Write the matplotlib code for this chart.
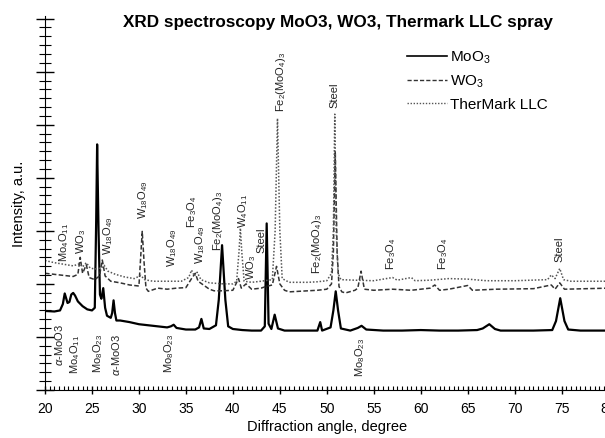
import matplotlib
matplotlib.use('Agg')
import matplotlib.pyplot as plt
from matplotlib.ticker import MultipleLocator, AutoMinorLocator
from matplotlib.lines import Line2D

plt.rcParams['font.family'] = ['Liberation Sans', 'DejaVu Sans']
plt.rcParams['mathtext.fontset'] = 'custom'
plt.rcParams['mathtext.rm'] = 'Liberation Sans'
plt.rcParams['mathtext.it'] = 'Liberation Sans:italic'
plt.rcParams['mathtext.bf'] = 'Liberation Sans:bold'

# MoO3 pattern (solid)
moo3_x = [20, 21, 21.6, 21.9, 22.1, 22.4, 22.6, 22.8, 23.0, 23.2, 23.5, 24.0, 24.5,
          25.0, 25.3, 25.45, 25.55, 25.7, 25.85, 26.0, 26.2, 26.4, 26.6, 27.0, 27.15,
          27.3, 27.45, 27.6, 28, 29, 30, 31, 32, 33, 33.4, 33.7, 34.0, 35, 36, 36.4,
          36.65, 36.9, 37.5, 38.2, 38.5, 38.85, 39.2, 39.5, 40, 41, 42, 43, 43.4,
          43.6, 43.8, 44.1, 44.45, 44.8, 45.5, 47, 49, 49.3, 49.5, 50.4, 50.7, 50.95,
          51.2, 51.5, 52.5, 53.3, 53.7, 54.2, 56, 58, 60, 62, 64, 66, 66.6, 67.3,
          67.9, 68.5, 70, 72, 74, 74.4, 74.85, 75.3, 75.7, 77, 80]
moo3_y = [1.49, 1.48, 1.50, 1.62, 1.82, 1.64, 1.66, 1.80, 1.83, 1.78, 1.67, 1.58, 1.52,
          1.50, 1.55, 3.2, 4.63, 3.0, 1.8, 1.72, 1.92, 1.55, 1.40, 1.36, 1.45,
          1.69, 1.45, 1.31, 1.31, 1.28, 1.24, 1.22, 1.20, 1.18, 1.20, 1.23, 1.17, 1.14, 1.14, 1.18,
          1.34, 1.16, 1.15, 1.22, 1.7, 2.73, 1.7, 1.2, 1.15, 1.13, 1.12, 1.12, 1.2,
          3.14, 1.25, 1.15, 1.42, 1.16, 1.12, 1.12, 1.12, 1.28, 1.12, 1.18, 1.5, 1.86,
          1.5, 1.16, 1.12, 1.17, 1.21, 1.14, 1.12, 1.12, 1.13, 1.12, 1.12, 1.13, 1.16, 1.24,
          1.15, 1.12, 1.12, 1.12, 1.13, 1.30, 1.73, 1.30, 1.14, 1.12, 1.12]

# WO3 pattern (dashed)
wo3_x = [20, 21, 22, 23, 23.5, 23.75, 24.0, 24.4, 24.7, 25, 25.3, 25.8, 26.1, 26.4,
         27, 28, 29, 30, 30.15, 30.35, 30.55, 30.75, 31, 32, 33, 34, 35, 35.6, 36.0,
         36.3, 36.7, 37.5, 38, 39, 40, 40.6, 40.9, 41.4, 42, 43, 43.5, 44.2, 44.65,
         45.0, 45.5, 46, 47, 48, 49, 50, 50.5, 50.7, 50.9, 51.1, 51.3, 51.6, 52, 53,
         53.3, 53.65, 54.0, 55, 57, 59, 61, 61.5, 62, 63, 65, 65.5, 68, 72, 73.9,
         74.3, 74.8, 75.3, 80]
wo3_y = [2.20, 2.18, 2.16, 2.14, 2.18, 2.50, 2.20, 2.36, 2.12, 2.10, 2.08, 2.15, 2.45, 2.15,
         2.05, 2.02, 1.98, 1.96, 2.40, 2.99, 2.40, 1.92, 1.86, 1.92, 1.90, 1.92, 1.93, 2.10, 2.20,
         2.05, 2.00, 1.90, 1.87, 1.87, 1.88, 2.10, 1.92, 2.00, 1.90, 1.92, 1.95, 1.98, 2.33,
         2.00, 1.88, 1.85, 1.86, 1.87, 1.88, 1.90, 2.00, 2.60, 4.50, 2.60, 1.95, 1.85, 1.83, 1.88,
         1.92, 2.24, 1.90, 1.88, 1.90, 1.88, 1.92, 1.98, 1.88, 1.90, 1.97, 1.88, 1.90, 1.91, 1.98,
         1.90, 2.02, 1.90, 1.92]

# TherMark LLC pattern (dotted)
thm_x = [20, 21, 22, 23, 23.7, 24, 24.4, 24.8, 25.3, 26, 26.3, 26.7, 27.5, 28.5, 29.5,
         30.2, 30.6, 31.5, 33, 34.5, 35.3, 35.6, 35.9, 36.2, 36.6, 37.5, 39, 40, 40.4,
         40.65, 40.8, 40.95, 41.2, 42, 43, 44.2, 44.5, 44.75, 45.0, 45.25, 46, 47, 48,
         49, 50, 50.5, 50.7, 50.85, 51.0, 51.2, 51.5, 53, 55, 57, 57.5, 59, 59.4, 61,
         63, 65, 67, 70, 73.5, 73.9, 74.3, 74.8, 75.2, 76, 80]
thm_y = [2.44, 2.40, 2.37, 2.34, 2.38, 2.32, 2.40, 2.30, 2.28, 2.30, 2.35, 2.24, 2.18, 2.13, 2.10,
         2.16, 2.08, 2.05, 2.05, 2.05, 2.12, 2.26, 2.15, 2.22, 2.08, 2.02, 2.00, 2.00, 2.05,
         2.60, 3.05, 2.60, 2.05, 2.03, 2.05, 2.08, 3.00, 5.12, 3.00, 2.10, 2.03, 2.03, 2.03,
         2.04, 2.06, 2.20, 3.00, 5.20, 3.00, 2.20, 2.08, 2.07, 2.06, 2.12, 2.07, 2.12, 2.06, 2.07,
         2.10, 2.09, 2.06, 2.06, 2.08, 2.17, 2.10, 2.29, 2.08, 2.05, 2.05]

# phase labels above the curves: (text, x, y of text start)
labels_above = [
    (r'Mo$_4$O$_{11}$', 22.0, 2.44),
    (r'WO$_3$', 23.85, 2.59),
    (r'W$_{18}$O$_{49}$', 26.7, 2.56),
    (r'W$_{18}$O$_{49}$', 30.45, 3.25),
    (r'W$_{18}$O$_{49}$', 33.5, 2.33),
    (r'Fe$_3$O$_4$', 35.65, 3.08),
    (r'W$_{18}$O$_{49}$', 36.5, 2.39),
    (r'Fe$_2$(MoO$_4$)$_3$', 38.4, 2.63),
    (r'W$_4$O$_{11}$', 41.1, 3.08),
    (r'WO$_3$', 41.95, 2.10),
    ('Steel', 43.0, 2.61),
    (r'Fe$_2$(MoO$_4$)$_3$', 45.1, 5.25),
    ('Steel', 50.87, 5.33),
    (r'Fe$_2$(MoO$_4$)$_3$', 48.95, 2.20),
    (r'Fe$_3$O$_4$', 56.85, 2.29),
    (r'Fe$_3$O$_4$', 62.4, 2.29),
    ('Steel', 74.8, 2.44),
]
# phase labels below the MoO3 curve: (text, x, y of text top)
labels_below = [
    (r'$\alpha$-MoO3', 21.5, 1.27),
    (r'Mo$_4$O$_{11}$', 23.2, 1.07),
    (r'Mo$_8$O$_{23}$', 25.65, 1.07),
    (r'$\alpha$-MoO3', 27.55, 1.07),
    (r'Mo$_8$O$_{23}$', 33.2, 1.07),
    (r'Mo$_8$O$_{23}$', 53.55, 1.01),
]

fig = plt.figure(figsize=(6.05, 4.39), dpi=100)
ax = fig.add_axes([45 / 605, 48 / 439, 563.6 / 605, 374 / 439])

ax.plot(moo3_x, moo3_y, color='black', linewidth=1.6)
ax.plot(wo3_x, wo3_y, color='#333333', linewidth=1.1, dashes=(3, 1.5))
ax.plot(thm_x, thm_y, color='#555555', linewidth=1.1, dashes=(1, 1.2))

for txt, x, y in labels_above:
    ax.text(x, y, txt, rotation=90, ha='center', va='bottom', fontsize=8, color='#222222')
for txt, x, y in labels_below:
    ax.text(x, y, txt, rotation=90, ha='center', va='top', fontsize=8, color='#222222')

ax.set_xlim(20, 80)
ax.set_ylim(0, 7.05)
ax.spines['top'].set_visible(False)
ax.spines['right'].set_visible(False)
ax.xaxis.set_major_locator(MultipleLocator(5))
ax.xaxis.set_minor_locator(MultipleLocator(0.5))
ax.yaxis.set_major_locator(MultipleLocator(1))
ax.yaxis.set_minor_locator(AutoMinorLocator(6))
ax.tick_params(axis='x', which='major', direction='inout', length=6, width=1, labelsize=10, pad=5)
ax.tick_params(axis='x', which='minor', direction='in', length=3, width=0.8)
ax.tick_params(axis='y', which='major', direction='inout', length=13, width=1, labelleft=False)
ax.tick_params(axis='y', which='minor', direction='inout', length=8, width=0.8)
ax.set_xlabel('Diffraction angle, degree', fontsize=10.5, labelpad=3)
ax.set_ylabel('Intensity, a.u.', fontsize=10.5)
ax.yaxis.set_label_coords(-0.033, 0.5)

fig.text(338 / 605, 1 - 22 / 439, 'XRD spectroscopy MoO3, WO3, Thermark LLC spray',
         ha='center', va='center', fontsize=12.3, fontweight='bold')

handles = [Line2D([], [], color='black', linewidth=1.2),
           Line2D([], [], color='#333333', linewidth=1.0, dashes=(3, 1.5)),
           Line2D([], [], color='#555555', linewidth=1.0, dashes=(1, 1.2))]
ax.legend(handles, [r'MoO$_3$', r'WO$_3$', 'TherMark LLC'], loc='upper left',
          bbox_to_anchor=(407 / 605, 1 - 50 / 439), bbox_transform=fig.transFigure,
          frameon=False, fontsize=11, handlelength=2.6, handletextpad=0.2,
          labelspacing=0.5, borderpad=0, borderaxespad=0)

fig.savefig('out.png', dpi=100)
